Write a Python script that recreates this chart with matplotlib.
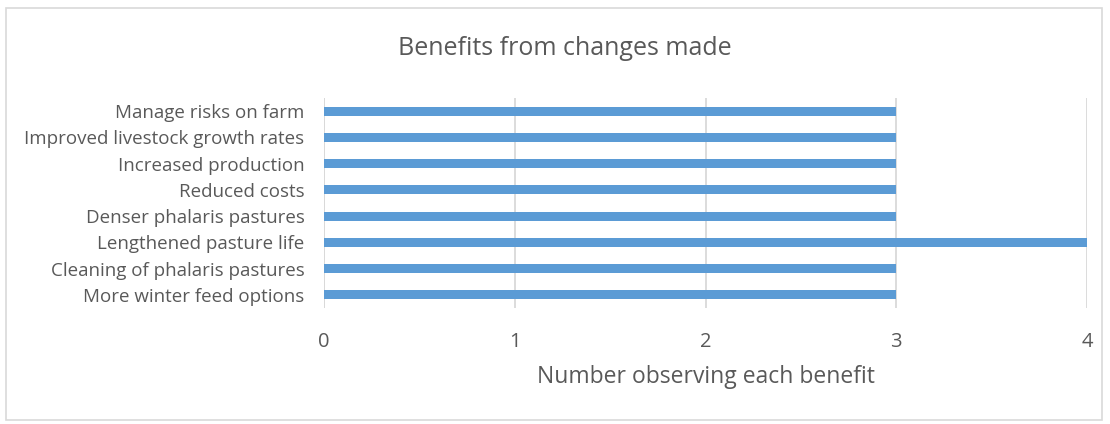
import matplotlib.pyplot as plt
from matplotlib.patches import Rectangle

categories = ['More winter feed options', 'Cleaning of phalaris pastures',
              'Lengthened pasture life', 'Denser phalaris pastures',
              'Reduced costs', 'Increased production',
              'Improved livestock growth rates', 'Manage risks on farm']
counts = [3, 3, 4, 3, 3, 3, 3, 3]
xticks = [0, 1, 2, 3, 4]

plt.rcParams['font.family'] = ['Open Sans', 'DejaVu Sans']
text_col = '#595959'

fig = plt.figure(figsize=(11.1, 4.24), dpi=100)
ax = fig.add_axes([0.2919, 0.2736, 0.6874, 0.4953])

ax.barh(range(len(categories)), counts, height=0.35, color='#5B9BD5', zorder=3)
ax.set_xlim(0, 4)
ax.set_ylim(-0.5, len(categories) - 0.5)
ax.set_yticks(range(len(categories)))
ax.set_yticklabels(categories, fontsize=13.5, color=text_col)
ax.set_xticks(xticks)
ax.set_xticklabels([str(t) for t in xticks], fontsize=14.5, color=text_col)
ax.tick_params(axis='both', length=0)
ax.tick_params(axis='x', pad=17)
ax.tick_params(axis='y', pad=14)
ax.grid(axis='x', color='#D9D9D9', linewidth=1.3, zorder=0)
for s in ax.spines.values():
    s.set_visible(False)
ax.axvline(0, color='#D9D9D9', linewidth=1.3, zorder=1)

ax.set_xlabel('Number observing each benefit', fontsize=16.5, color=text_col, labelpad=10)
fig.text(0.509, 0.885, 'Benefits from changes made', ha='center', va='center',
         fontsize=18, color=text_col)

fig.patches.append(Rectangle((6 / 1110, 4 / 424), 1096 / 1110, 412 / 424,
                             transform=fig.transFigure, fill=False,
                             edgecolor='#D9D9D9', linewidth=1.2))

fig.savefig('out.png', dpi=100)
